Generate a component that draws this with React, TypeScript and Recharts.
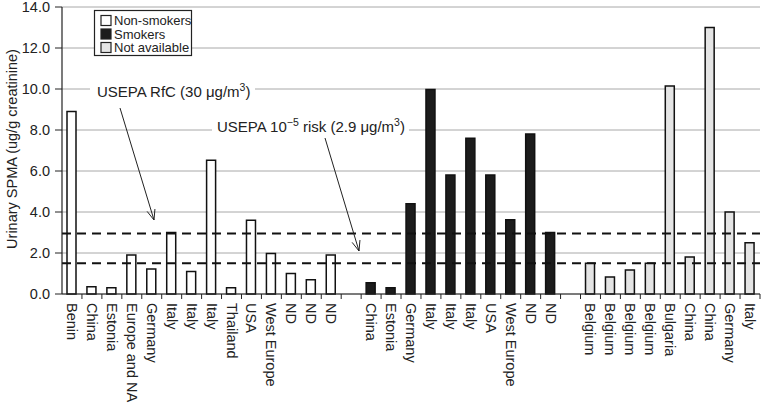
import { BarChart, Bar, XAxis, YAxis, CartesianGrid, ReferenceLine, Cell } from 'recharts'

// urinary SPMA by study, grouped by smoking status
const nonSmokerLabels = ['Benin', 'China', 'Estonia', 'Europe and NA', 'Germany', 'Italy', 'Italy', 'Italy', 'Thailand', 'USA', 'West Europe', 'ND', 'ND', 'ND']
const nonSmokerValues = [8.9, 0.35, 0.3, 1.9, 1.22, 3.0, 1.1, 6.52, 0.3, 3.6, 1.98, 1.0, 0.7, 1.9]

const smokerLabels = ['China', 'Estonia', 'Germany', 'Italy', 'Italy', 'Italy', 'USA', 'West Europe', 'ND', 'ND']
const smokerValues = [0.55, 0.3, 4.4, 9.98, 5.8, 7.6, 5.8, 3.62, 7.8, 3.0]

const naLabels = ['Belgium', 'Belgium', 'Belgium', 'Belgium', 'Bulgaria', 'China', 'China', 'Germany', 'Italy']
const naValues = [1.5, 0.83, 1.17, 1.5, 10.15, 1.8, 13.0, 4.0, 2.5]

const yTicks = [0, 2, 4, 6, 8, 10, 12, 14]
const rfcLevel = 2.95
const riskLevel = 1.5

const fills: Record<string, string> = {
  non: '#ffffff',
  smoker: '#1c1c1c',
  na: '#e4e4e4',
}

const FONT = '"Liberation Sans", Arial, sans-serif'
const W = 762
const H = 406
const Y_AXIS_W = 62
const X_AXIS_H = 112
const M_TOP = 7
const M_RIGHT = 2
const TICK_FS = 14.5

type Row = { id: string; label: string; value: number | null; group: string }

const rawRows: Omit<Row, 'id'>[] = [
  ...nonSmokerLabels.map((label, i) => ({ label, value: nonSmokerValues[i], group: 'non' })),
  { label: '', value: null, group: 'gap' },
  ...smokerLabels.map((label, i) => ({ label, value: smokerValues[i], group: 'smoker' })),
  { label: '', value: null, group: 'gap' },
  ...naLabels.map((label, i) => ({ label, value: naValues[i], group: 'na' })),
]
const rows: Row[] = rawRows.map((r, i) => ({ ...r, id: String(i) }))

const BAND = (W - Y_AXIS_W - M_RIGHT) / rows.length

const XTick = (props: any) => {
  const { x, y, payload } = props
  const row = rows[Number(payload.value)]
  const tx = x + BAND / 2
  return (
    <g>
      <line x1={tx} x2={tx} y1={y} y2={y + 5} stroke="#222" strokeWidth={1} />
      <text
        transform={`translate(${x},${y + 9}) rotate(90)`}
        textAnchor="start"
        dominantBaseline="central"
        fontSize={TICK_FS}
        fontFamily={FONT}
        fill="#222"
      >
        {row ? row.label : ''}
      </text>
    </g>
  )
}

const Arrow = ({ x1, y1, x2, y2 }: { x1: number; y1: number; x2: number; y2: number }) => {
  const a = Math.atan2(y2 - y1, x2 - x1)
  const len = 11
  const spread = 0.38
  const p1 = [x2 - len * Math.cos(a - spread), y2 - len * Math.sin(a - spread)]
  const p2 = [x2 - len * Math.cos(a + spread), y2 - len * Math.sin(a + spread)]
  return (
    <g stroke="#222" strokeWidth={1} fill="none">
      <line x1={x1} y1={y1} x2={x2} y2={y2} />
      <polyline points={`${p1[0]},${p1[1]} ${x2},${y2} ${p2[0]},${p2[1]}`} />
    </g>
  )
}

const Overlay = () => (
  <svg width={W} height={H} style={{ position: 'absolute', left: 0, top: 0, pointerEvents: 'none' }}>
    <text
      transform="translate(12,149) rotate(-90)"
      textAnchor="middle"
      dominantBaseline="central"
      fontSize={14.5}
      fontFamily={FONT}
      fill="#222"
    >
      Urinary SPMA (ug/g creatinine)
    </text>

    {/* legend */}
    <rect x={94.5} y={10.5} width={97} height={45} fill="#fff" stroke="#222" strokeWidth={1.2} />
    {[
      { key: 'non', name: 'Non-smokers' },
      { key: 'smoker', name: 'Smokers' },
      { key: 'na', name: 'Not available' },
    ].map((item, i) => (
      <g key={item.key}>
        <rect x={101} y={15.5 + i * 13.5} width={10} height={10} fill={fills[item.key]} stroke="#222" strokeWidth={1.2} />
        <text x={114} y={25 + i * 13.5} fontSize={13} fontFamily={FONT} fill="#222">
          {item.name}
        </text>
      </g>
    ))}

    {/* annotations */}
    <rect x={90} y={80} width={165} height={20} fill="#fff" />
    <text x={97} y={97} fontSize={15} fontFamily={FONT} fill="#222">
      USEPA RfC (30 μg/m<tspan dy={-6} fontSize={10.5}>3</tspan>
      <tspan dy={6}>)</tspan>
    </text>
    <Arrow x1={120} y1={108} x2={154} y2={220} />

    <rect x={212} y={116} width={197} height={20} fill="#fff" />
    <text x={217} y={132} fontSize={15} fontFamily={FONT} fill="#222">
      USEPA 10<tspan dy={-6} fontSize={10.5}>−5</tspan>
      <tspan dy={6}> risk (2.9 μg/m</tspan>
      <tspan dy={-6} fontSize={10.5}>3</tspan>
      <tspan dy={6}>)</tspan>
    </text>
    <Arrow x1={325} y1={138} x2={359} y2={251} />
  </svg>
)

export default function App() {
  return (
    <div style={{ position: 'absolute', left: 0, top: 0, width: W, height: H, background: '#fff', fontFamily: FONT }}>
      <BarChart width={W} height={H} data={rows} margin={{ top: M_TOP, right: M_RIGHT, left: 0, bottom: 0 }}>
        <CartesianGrid horizontal vertical={false} stroke="#a8a8a8" strokeWidth={1} />
        <XAxis
          dataKey="id"
          type="category"
          interval={0}
          height={X_AXIS_H}
          tickLine={false}
          tickSize={0}
          tickMargin={0}
          axisLine={{ stroke: '#222', strokeWidth: 1.2 }}
          tick={<XTick />}
        />
        <YAxis
          type="number"
          domain={[0, 14]}
          ticks={yTicks}
          interval={0}
          width={Y_AXIS_W}
          tickFormatter={(v: number) => v.toFixed(1)}
          tickSize={7}
          tickMargin={5}
          tickLine={{ stroke: '#222' }}
          axisLine={{ stroke: '#222', strokeWidth: 1.2 }}
          tick={{ fontSize: TICK_FS, fontFamily: FONT, fill: '#222' }}
        />
        <ReferenceLine y={rfcLevel} stroke="#111" strokeWidth={2} strokeDasharray="9 6" />
        <ReferenceLine y={riskLevel} stroke="#111" strokeWidth={2} strokeDasharray="9 6" />
        <Bar dataKey="value" barSize={9} stroke="#111" strokeWidth={1.5} isAnimationActive={false}>
          {rows.map((r) => (
            <Cell key={r.id} fill={fills[r.group] || '#fff'} />
          ))}
        </Bar>
      </BarChart>
      <Overlay />
    </div>
  )
}
